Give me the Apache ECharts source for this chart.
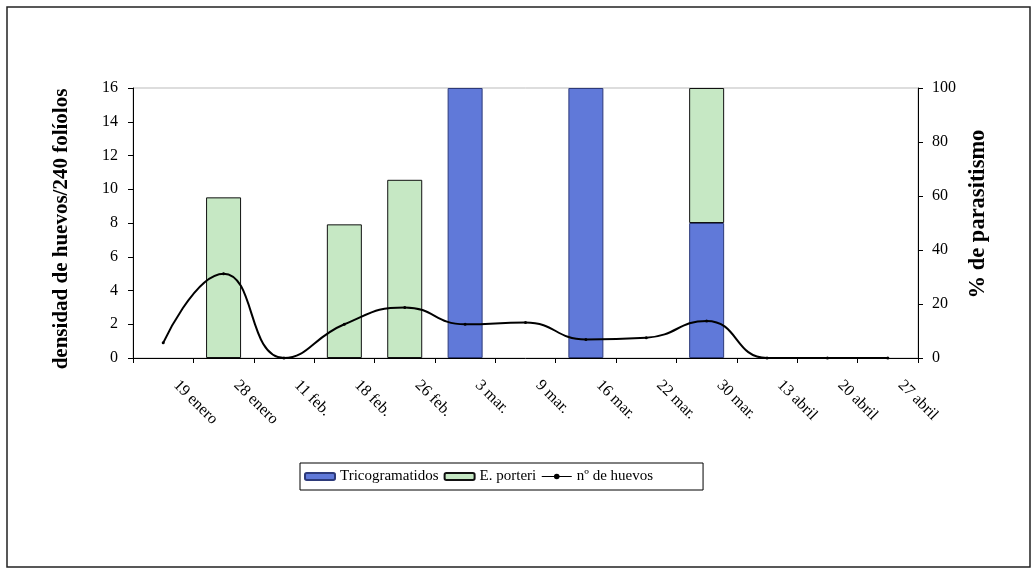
<!DOCTYPE html>
<html>
<head>
<meta charset="utf-8">
<script src="https://cdn.jsdelivr.net/npm/echarts@6/dist/echarts.min.js"></script>
<style>
html,body{margin:0;padding:0;background:#fff;}
#chart{width:1035px;height:570px;}
</style>
</head>
<body>
<div id="chart"></div>
<script>
var categories = ['19 enero','28 enero','11 feb.','18 feb.','26 feb.','3 mar.','9 mar.','16 mar.','22 mar.','30 mar.','13 abril','20 abril','27 abril'];
var tricogramatidos = [null, null, null, null, null, 100, null, 100, null, 50, null, null, null];
var porteri = [null, 59.5, null, 49.5, 66, null, null, null, null, 50, null, null, null];
var huevos = [0.9, 5, 0, 2, 3, 2, 2.1, 1.1, 1.2, 2.2, 0, 0, 0];
var leftTicks = {min: 0, max: 16, interval: 2};
var rightTicks = {min: 0, max: 100, interval: 20};

var FONT = '"Liberation Serif", "Times New Roman", serif';
var chart = echarts.init(document.getElementById('chart'));
chart.setOption({
  backgroundColor: '#fff',
  animation: false,
  textStyle: {fontFamily: FONT, color: '#000'},
  graphic: [{
    type: 'rect',
    shape: {x: 7, y: 7, width: 1023, height: 560},
    style: {fill: 'none', stroke: '#222', lineWidth: 1.5},
    silent: true
  }],
  grid: {left: 133, right: 117, top: 88, bottom: 212, show: true, borderColor: '#bbb', borderWidth: 1},
  legend: {
    left: 300, top: 463,
    borderColor: '#000', borderWidth: 1,
    padding: [6, 50, 6, 4],
    itemWidth: 30, itemHeight: 7, itemGap: 5,
    textStyle: {fontFamily: FONT, fontSize: 15, color: '#000'},
    data: [
      {name: 'Tricogramatidos'},
      {name: 'E. porteri', textStyle: {width: 64}},
      {name: 'nº de huevos', textStyle: {width: 92}, itemStyle: {borderWidth: 0}, lineStyle: {width: 1}}
    ]
  },
  xAxis: {
    type: 'category',
    data: categories,
    boundaryGap: true,
    axisLine: {lineStyle: {color: '#000', width: 1}},
    axisTick: {show: true, length: 5, lineStyle: {color: '#000'}},
    axisLabel: {rotate: -45, margin: 12, padding: [0, 0, 0, 18], fontSize: 16, fontFamily: FONT, color: '#000'}
  },
  yAxis: [{
    type: 'value',
    min: leftTicks.min, max: leftTicks.max, interval: leftTicks.interval,
    name: 'densidad de huevos/240 folíolos',
    nameLocation: 'middle', nameGap: 61,
    nameTextStyle: {fontFamily: FONT, fontSize: 21, fontWeight: 'bold', color: '#000', padding: [0, 12, 0, 0]},
    axisLine: {show: true, lineStyle: {color: '#000'}},
    axisTick: {show: true, length: 5, lineStyle: {color: '#000'}},
    axisLabel: {fontSize: 16, fontFamily: FONT, color: '#000', margin: 15},
    splitLine: {show: false}
  }, {
    type: 'value',
    min: rightTicks.min, max: rightTicks.max, interval: rightTicks.interval,
    name: '% de parasitismo',
    nameLocation: 'middle', nameGap: 42, nameRotate: 90,
    nameTextStyle: {fontFamily: FONT, fontSize: 22.5, fontWeight: 'bold', color: '#000', padding: [0, 0, 0, 18]},
    position: 'right',
    axisLine: {show: true, lineStyle: {color: '#000'}},
    axisTick: {show: true, length: 5, lineStyle: {color: '#000'}},
    axisLabel: {fontSize: 16, fontFamily: FONT, color: '#000', margin: 14},
    splitLine: {show: false}
  }],
  series: [{
    name: 'Tricogramatidos',
    type: 'bar',
    stack: 'p',
    yAxisIndex: 1,
    barWidth: 35,
    data: tricogramatidos,
    itemStyle: {color: '#6079d9', borderColor: '#2d3a7a', borderWidth: 1}
  }, {
    name: 'E. porteri',
    type: 'bar',
    stack: 'p',
    yAxisIndex: 1,
    barWidth: 35,
    data: porteri,
    itemStyle: {color: '#c6e8c4', borderColor: '#111', borderWidth: 1}
  }, {
    name: 'nº de huevos',
    type: 'line',
    yAxisIndex: 0,
    data: huevos,
    smooth: 0.5,
    symbol: 'circle',
    symbolSize: 3,
    showSymbol: true,
    lineStyle: {color: '#000', width: 2},
    itemStyle: {color: '#000'},
    z: 5
  }]
});
</script>
</body>
</html>
